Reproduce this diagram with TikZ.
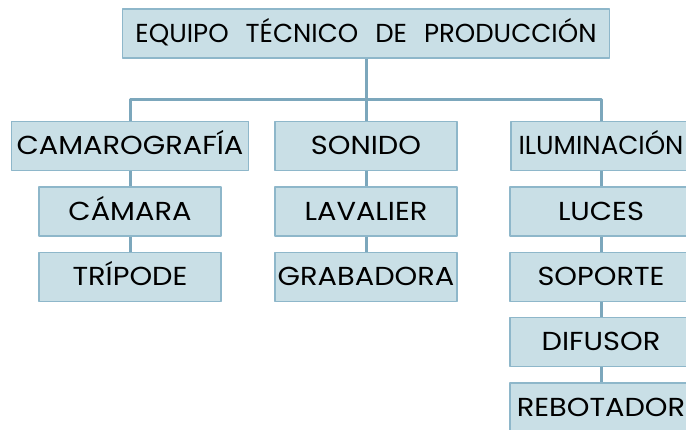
\documentclass[tikz,border=0pt]{standalone}
\usepackage{fontspec}
\setmainfont{Poppins}[FakeStretch=1.11]
\newfontfamily\tieude{Poppins}
\definecolor{hop}{HTML}{C9DFE6}
\definecolor{vien}{HTML}{8EB7CA}
\definecolor{noi}{HTML}{7CA7BC}
\begin{document}
\begin{tikzpicture}[x=1pt,y=-1pt,line join=round,font=\fontsize{26}{28}\selectfont,
	hop/.style={draw=vien,fill=hop,line width=1.5pt,minimum height=49pt,inner sep=0pt,text height=18pt,text depth=0pt},
	hep/.style={font=\tieude\fontsize{26}{28}\selectfont},
	noi/.style={draw=noi,line width=3pt}]
	\useasboundingbox (0,0) rectangle (686,430);
	%%Cột
	\node[hop,hep,minimum width=487pt] (E) at (366,33.5)
		{EQUIPO\hskip17pt TÉCNICO\hskip17pt DE\hskip17pt PRODUCCIÓN};
	\node[hop,minimum width=237pt] (C) at (130,146) {CAMAROGRAFÍA};
	\node[hop,minimum width=182pt] (S) at (366,146) {SONIDO};
	\node[hop,hep,minimum width=180pt,xshift=1pt] (I) at (600,146) {ILUMINACIÓN};
	%%Hộp con
	\foreach \t/\g/\x/\y in {C1/CÁMARA/130/211.5,C2/TRÍPODE/130/277,
		S1/LAVALIER/366/211.5,S2/GRABADORA/366/277,
		I1/LUCES/601/211.5,I2/SOPORTE/601/277,I3/DIFUSOR/601/342,I4/REBOTADOR/601/407.5}{
		\node[hop,minimum width=182pt] (\t) at (\x,\y) {\g};
	}
	%%Nối
	\path (E.south|-0,100) coordinate (M);
	\draw[noi] (E.south)--(M) (C.north)|-(M)-|(I.north) (M)--(S.north);
	\foreach \a/\b in {C/C1,C1/C2,S/S1,S1/S2,I/I1,I1/I2,I2/I3,I3/I4}{
		\draw[noi] (\a.south)--(\b.north);
	}
\end{tikzpicture}
\end{document}
